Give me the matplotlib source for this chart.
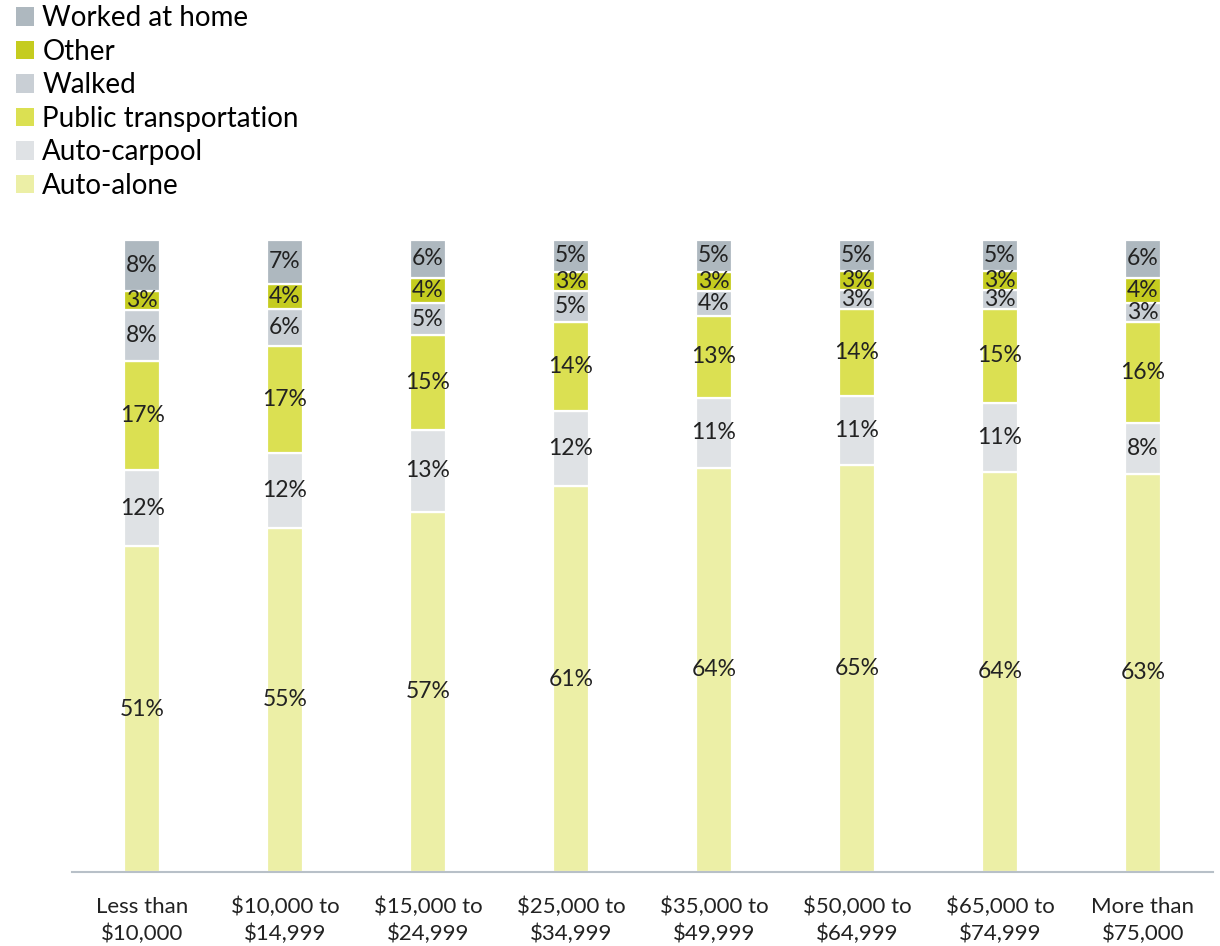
import matplotlib
matplotlib.use("Agg")
import matplotlib.pyplot as plt
from matplotlib.patches import Patch
import numpy as np

categories = ["Less than\n$10,000", "$10,000 to\n$14,999", "$15,000 to\n$24,999",
              "$25,000 to\n$34,999", "$35,000 to\n$49,999", "$50,000 to\n$64,999",
              "$65,000 to\n$74,999", "More than\n$75,000"]
series_names = ["Auto-alone", "Auto-carpool", "Public transportation", "Walked", "Other", "Worked at home"]
auto_alone = [51, 55, 57, 61, 64, 65, 64, 63]
auto_carpool = [12, 12, 13, 12, 11, 11, 11, 8]
public_transport = [17, 17, 15, 14, 13, 14, 15, 16]
walked = [8, 6, 5, 5, 4, 3, 3, 3]
other = [3, 4, 4, 3, 3, 3, 3, 4]
worked_home = [8, 7, 6, 5, 5, 5, 5, 6]
colors = ["#ecefa6", "#dfe2e5", "#dbe052", "#c9cfd5", "#c5cc1f", "#aeb8bf"]

plt.rcParams['font.family'] = ['Lato', 'DejaVu Sans']

data = np.array([auto_alone, auto_carpool, public_transport, walked, other, worked_home], dtype=float)
totals = data.sum(axis=0)
heights = data / totals * 100.0

fig = plt.figure(figsize=(12.2, 9.46), dpi=100)
ax = fig.add_axes([72/1220, (946-872)/946, (1213-72)/1220, (872-240)/946])

x = np.arange(len(categories))
bottom = np.zeros(len(categories))
for k, name in enumerate(series_names):
    ax.bar(x, heights[k], 0.255, bottom=bottom, color=colors[k], edgecolor="white", linewidth=1.6)
    for i in range(len(categories)):
        ax.text(x[i], bottom[i] + heights[k][i] / 2, f"{int(data[k][i])}%",
                ha="center", va="center", fontsize=16.5, color="#222222")
    bottom += heights[k]

ax.set_xlim(-0.49, 7.49)
ax.set_ylim(0, 100)
ax.set_yticks([])
ax.set_xticks(x)
ax.set_xticklabels(categories, fontsize=16, color="#222222", linespacing=1.38)
ax.tick_params(axis="x", length=0, pad=18)
for s in ["top", "right", "left"]:
    ax.spines[s].set_visible(False)
ax.spines["bottom"].set_color("#b8c0c8")
ax.spines["bottom"].set_linewidth(1.5)

handles = [Patch(facecolor=colors[k], edgecolor="none") for k in range(len(series_names))][::-1]
labels = series_names[::-1]
fig.legend(handles, labels, loc="upper left", bbox_to_anchor=(0.004, 1.006), frameon=False,
           fontsize=20, handlelength=0.65, handleheight=0.65, handletextpad=0.3,
           labelspacing=0.27, borderaxespad=0.0)

fig.savefig("out.png", dpi=100)
